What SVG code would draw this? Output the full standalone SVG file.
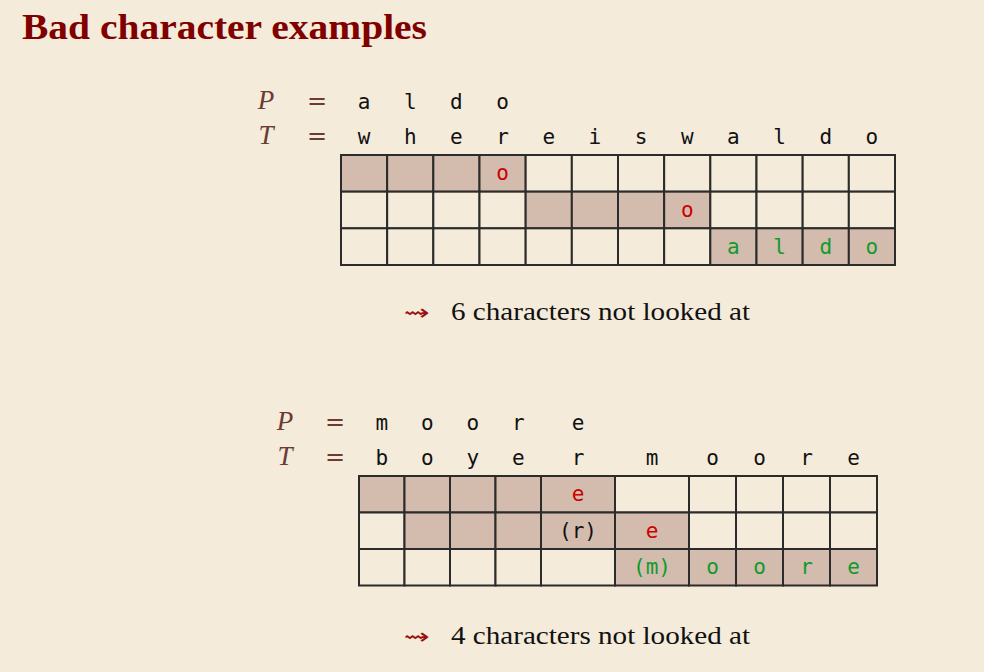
<svg xmlns="http://www.w3.org/2000/svg" width="984" height="672" viewBox="0 0 984 672">
<style>
.bg{fill:#f4ebda}
.c{fill:#f4ebda;stroke:#2b2b2b;stroke-width:2}
.s{fill:#d3bcae;stroke:#2b2b2b;stroke-width:2}
.m{font-family:"DejaVu Sans Mono",monospace;font-size:21px;text-anchor:middle;fill:#111}
.r{fill:#cc0000}
.g{fill:#119a2c}
.lab{font-family:"Liberation Serif",serif;font-style:italic;font-size:27px;fill:#6a3a33;text-anchor:middle}
.eq{font-family:"DejaVu Sans",sans-serif;font-size:24px;fill:#6a3a33;text-anchor:middle}
.title{font-family:"Liberation Serif",serif;font-weight:bold;font-size:35px;fill:#800000}
.note{font-family:"Liberation Serif",serif;font-size:25px;fill:#111}
.arr{font-family:"DejaVu Sans",sans-serif;font-size:22px;fill:#9b1010}
</style>
<rect class="bg" x="0" y="0" width="984" height="672"/>
<text class="title" x="22" y="39" textLength="405" lengthAdjust="spacingAndGlyphs">Bad character examples</text>

<g id="example1">
<g id="ex1-labels">
<text class="lab" x="266" y="109">P</text>
<text class="eq" x="317" y="109">=</text>
<text class="lab" x="266" y="144">T</text>
<text class="eq" x="317" y="144">=</text>
<text class="m" x="364.1" y="109">a</text>
<text class="m" x="410.3" y="109">l</text>
<text class="m" x="456.4" y="109">d</text>
<text class="m" x="502.6" y="109">o</text>
<text class="m" x="364.1" y="144">w</text>
<text class="m" x="410.3" y="144">h</text>
<text class="m" x="456.4" y="144">e</text>
<text class="m" x="502.6" y="144">r</text>
<text class="m" x="548.8" y="144">e</text>
<text class="m" x="594.9" y="144">i</text>
<text class="m" x="641.1" y="144">s</text>
<text class="m" x="687.3" y="144">w</text>
<text class="m" x="733.4" y="144">a</text>
<text class="m" x="779.6" y="144">l</text>
<text class="m" x="825.8" y="144">d</text>
<text class="m" x="871.9" y="144">o</text>
</g>
<g id="ex1-grid">
<rect class="s" x="341" y="155" width="46.17" height="36.67"/>
<rect class="s" x="387.17" y="155" width="46.17" height="36.67"/>
<rect class="s" x="433.33" y="155" width="46.17" height="36.67"/>
<rect class="s" x="479.5" y="155" width="46.17" height="36.67"/>
<rect class="c" x="525.67" y="155" width="46.17" height="36.67"/>
<rect class="c" x="571.83" y="155" width="46.17" height="36.67"/>
<rect class="c" x="618" y="155" width="46.17" height="36.67"/>
<rect class="c" x="664.17" y="155" width="46.17" height="36.67"/>
<rect class="c" x="710.33" y="155" width="46.17" height="36.67"/>
<rect class="c" x="756.5" y="155" width="46.17" height="36.67"/>
<rect class="c" x="802.67" y="155" width="46.17" height="36.67"/>
<rect class="c" x="848.83" y="155" width="46.17" height="36.67"/>

<rect class="c" x="341" y="191.67" width="46.17" height="36.67"/>
<rect class="c" x="387.17" y="191.67" width="46.17" height="36.67"/>
<rect class="c" x="433.33" y="191.67" width="46.17" height="36.67"/>
<rect class="c" x="479.5" y="191.67" width="46.17" height="36.67"/>
<rect class="s" x="525.67" y="191.67" width="46.17" height="36.67"/>
<rect class="s" x="571.83" y="191.67" width="46.17" height="36.67"/>
<rect class="s" x="618" y="191.67" width="46.17" height="36.67"/>
<rect class="s" x="664.17" y="191.67" width="46.17" height="36.67"/>
<rect class="c" x="710.33" y="191.67" width="46.17" height="36.67"/>
<rect class="c" x="756.5" y="191.67" width="46.17" height="36.67"/>
<rect class="c" x="802.67" y="191.67" width="46.17" height="36.67"/>
<rect class="c" x="848.83" y="191.67" width="46.17" height="36.67"/>

<rect class="c" x="341" y="228.33" width="46.17" height="36.67"/>
<rect class="c" x="387.17" y="228.33" width="46.17" height="36.67"/>
<rect class="c" x="433.33" y="228.33" width="46.17" height="36.67"/>
<rect class="c" x="479.5" y="228.33" width="46.17" height="36.67"/>
<rect class="c" x="525.67" y="228.33" width="46.17" height="36.67"/>
<rect class="c" x="571.83" y="228.33" width="46.17" height="36.67"/>
<rect class="c" x="618" y="228.33" width="46.17" height="36.67"/>
<rect class="c" x="664.17" y="228.33" width="46.17" height="36.67"/>
<rect class="s" x="710.33" y="228.33" width="46.17" height="36.67"/>
<rect class="s" x="756.5" y="228.33" width="46.17" height="36.67"/>
<rect class="s" x="802.67" y="228.33" width="46.17" height="36.67"/>
<rect class="s" x="848.83" y="228.33" width="46.17" height="36.67"/>

<text class="m r" x="502.6" y="180">o</text>
<text class="m r" x="687.3" y="217">o</text>
<text class="m g" x="733.4" y="253.5">a</text>
<text class="m g" x="779.6" y="253.5">l</text>
<text class="m g" x="825.8" y="253.5">d</text>
<text class="m g" x="871.9" y="253.5">o</text>
</g>
<g id="ex1-note">
<text class="arr" x="404" y="320" textLength="26" lengthAdjust="spacingAndGlyphs">⇝</text>
<text class="note" x="451" y="320" textLength="299" lengthAdjust="spacingAndGlyphs">6 characters not looked at</text>
</g>
</g>

<g id="example2">
<g id="ex2-labels">
<text class="lab" x="285" y="430">P</text>
<text class="eq" x="335" y="430">=</text>
<text class="lab" x="285" y="465">T</text>
<text class="eq" x="335" y="465">=</text>
<text class="m" x="381.75" y="430">m</text>
<text class="m" x="427.25" y="430">o</text>
<text class="m" x="472.75" y="430">o</text>
<text class="m" x="518.25" y="430">r</text>
<text class="m" x="578" y="430">e</text>
<text class="m" x="381.75" y="465">b</text>
<text class="m" x="427.25" y="465">o</text>
<text class="m" x="472.75" y="465">y</text>
<text class="m" x="518.25" y="465">e</text>
<text class="m" x="578" y="465">r</text>
<text class="m" x="652" y="465">m</text>
<text class="m" x="712.5" y="465">o</text>
<text class="m" x="759.5" y="465">o</text>
<text class="m" x="806.5" y="465">r</text>
<text class="m" x="853.5" y="465">e</text>
</g>
<g id="ex2-grid">
<rect class="s" x="359" y="476" width="45.5" height="36.5"/>
<rect class="s" x="404.5" y="476" width="45.5" height="36.5"/>
<rect class="s" x="450" y="476" width="45.5" height="36.5"/>
<rect class="s" x="495.5" y="476" width="45.5" height="36.5"/>
<rect class="s" x="541" y="476" width="74" height="36.5"/>
<rect class="c" x="615" y="476" width="74" height="36.5"/>
<rect class="c" x="689" y="476" width="47" height="36.5"/>
<rect class="c" x="736" y="476" width="47" height="36.5"/>
<rect class="c" x="783" y="476" width="47" height="36.5"/>
<rect class="c" x="830" y="476" width="47" height="36.5"/>

<rect class="c" x="359" y="512.5" width="45.5" height="36.5"/>
<rect class="s" x="404.5" y="512.5" width="45.5" height="36.5"/>
<rect class="s" x="450" y="512.5" width="45.5" height="36.5"/>
<rect class="s" x="495.5" y="512.5" width="45.5" height="36.5"/>
<rect class="s" x="541" y="512.5" width="74" height="36.5"/>
<rect class="s" x="615" y="512.5" width="74" height="36.5"/>
<rect class="c" x="689" y="512.5" width="47" height="36.5"/>
<rect class="c" x="736" y="512.5" width="47" height="36.5"/>
<rect class="c" x="783" y="512.5" width="47" height="36.5"/>
<rect class="c" x="830" y="512.5" width="47" height="36.5"/>

<rect class="c" x="359" y="549" width="45.5" height="36.5"/>
<rect class="c" x="404.5" y="549" width="45.5" height="36.5"/>
<rect class="c" x="450" y="549" width="45.5" height="36.5"/>
<rect class="c" x="495.5" y="549" width="45.5" height="36.5"/>
<rect class="c" x="541" y="549" width="74" height="36.5"/>
<rect class="s" x="615" y="549" width="74" height="36.5"/>
<rect class="s" x="689" y="549" width="47" height="36.5"/>
<rect class="s" x="736" y="549" width="47" height="36.5"/>
<rect class="s" x="783" y="549" width="47" height="36.5"/>
<rect class="s" x="830" y="549" width="47" height="36.5"/>

<text class="m r" x="578" y="501">e</text>
<text class="m" x="578" y="538">(r)</text>
<text class="m r" x="652" y="538">e</text>
<text class="m g" x="652" y="574">(m)</text>
<text class="m g" x="712.5" y="574">o</text>
<text class="m g" x="759.5" y="574">o</text>
<text class="m g" x="806.5" y="574">r</text>
<text class="m g" x="853.5" y="574">e</text>
</g>
<g id="ex2-note">
<text class="arr" x="404" y="644" textLength="26" lengthAdjust="spacingAndGlyphs">⇝</text>
<text class="note" x="451" y="644" textLength="299" lengthAdjust="spacingAndGlyphs">4 characters not looked at</text>
</g>
</g>
</svg>
